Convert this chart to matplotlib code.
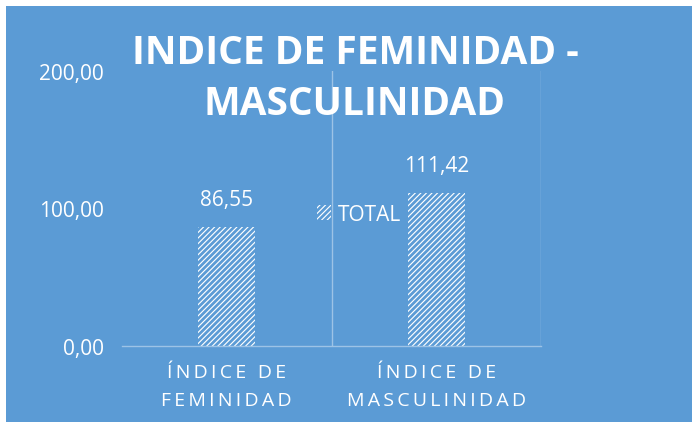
import matplotlib.pyplot as plt
import matplotlib.patches as mpatches
from matplotlib.ticker import FuncFormatter

categories = ["ÍNDICE DE\nFEMINIDAD", "ÍNDICE DE\nMASCULINIDAD"]
values = [86.55, 111.42]
series_name = "TOTAL"
title = "INDICE DE FEMINIDAD -\nMASCULINIDAD"

BG = "#5B9BD5"
GRID = "#9DC3E6"
FONT = ["Open Sans", "DejaVu Sans"]

plt.rcParams["font.family"] = FONT
plt.rcParams["hatch.color"] = BG
plt.rcParams["hatch.linewidth"] = 2.0


def spaced(s):
    # wide letter spacing like the original axis labels
    return "\n".join("\u2009".join(line) for line in s.split("\n"))


fig = plt.figure(figsize=(6.92, 4.27), dpi=100)
fig.patch.set_facecolor("white")
fig.patches.append(mpatches.Rectangle((6 / 692, 4 / 427), 1 - 6 / 692, 1 - 11 / 427,
                                      transform=fig.transFigure, facecolor=BG,
                                      edgecolor="none", zorder=-10))

ax = fig.add_axes([122 / 692, 1 - 347 / 427, 419 / 692, 275 / 427])
ax.set_facecolor("none")

x = [0, 1]
bars = ax.bar(x, values, width=0.27, color="white", edgecolor=BG, linewidth=0,
              hatch="//////", label=series_name, zorder=2)

for xi, v in zip(x, values):
    ax.text(xi, v + 12, f"{v:.2f}".replace(".", ","), ha="center", va="bottom",
            color="white", fontsize=15)

ax.set_xlim(-0.5, 1.5)
ax.set_ylim(0, 200)
ax.set_yticks([0, 100, 200])
ax.yaxis.set_major_formatter(FuncFormatter(lambda v, p: f"{v:.2f}".replace(".", ",")))
ax.set_xticks(x)
ax.set_xticklabels([spaced(c) for c in categories], linespacing=1.75)
ax.tick_params(axis="both", length=0, colors="white", labelsize=15)
ax.tick_params(axis="y", pad=13)
ax.tick_params(axis="x", pad=12, labelsize=14)

for xv in [0.5, 1.5]:
    ax.axvline(xv, color=GRID, linewidth=1, zorder=1)
for side in ["top", "right", "left"]:
    ax.spines[side].set_visible(False)
ax.spines["bottom"].set_color(GRID)
ax.spines["bottom"].set_linewidth(1)

ax.legend(loc="center left", bbox_to_anchor=(0.44, 0.478), frameon=False,
          labelcolor="white", fontsize=15, handlelength=0.7, handleheight=0.7,
          handletextpad=0.3, borderpad=0)

fig.text(355 / 692, 1 - 79 / 427, title, ha="center", va="center", color="white",
         fontsize=28, fontweight="bold", linespacing=1.4, zorder=5)

fig.savefig("out.png", dpi=100)
